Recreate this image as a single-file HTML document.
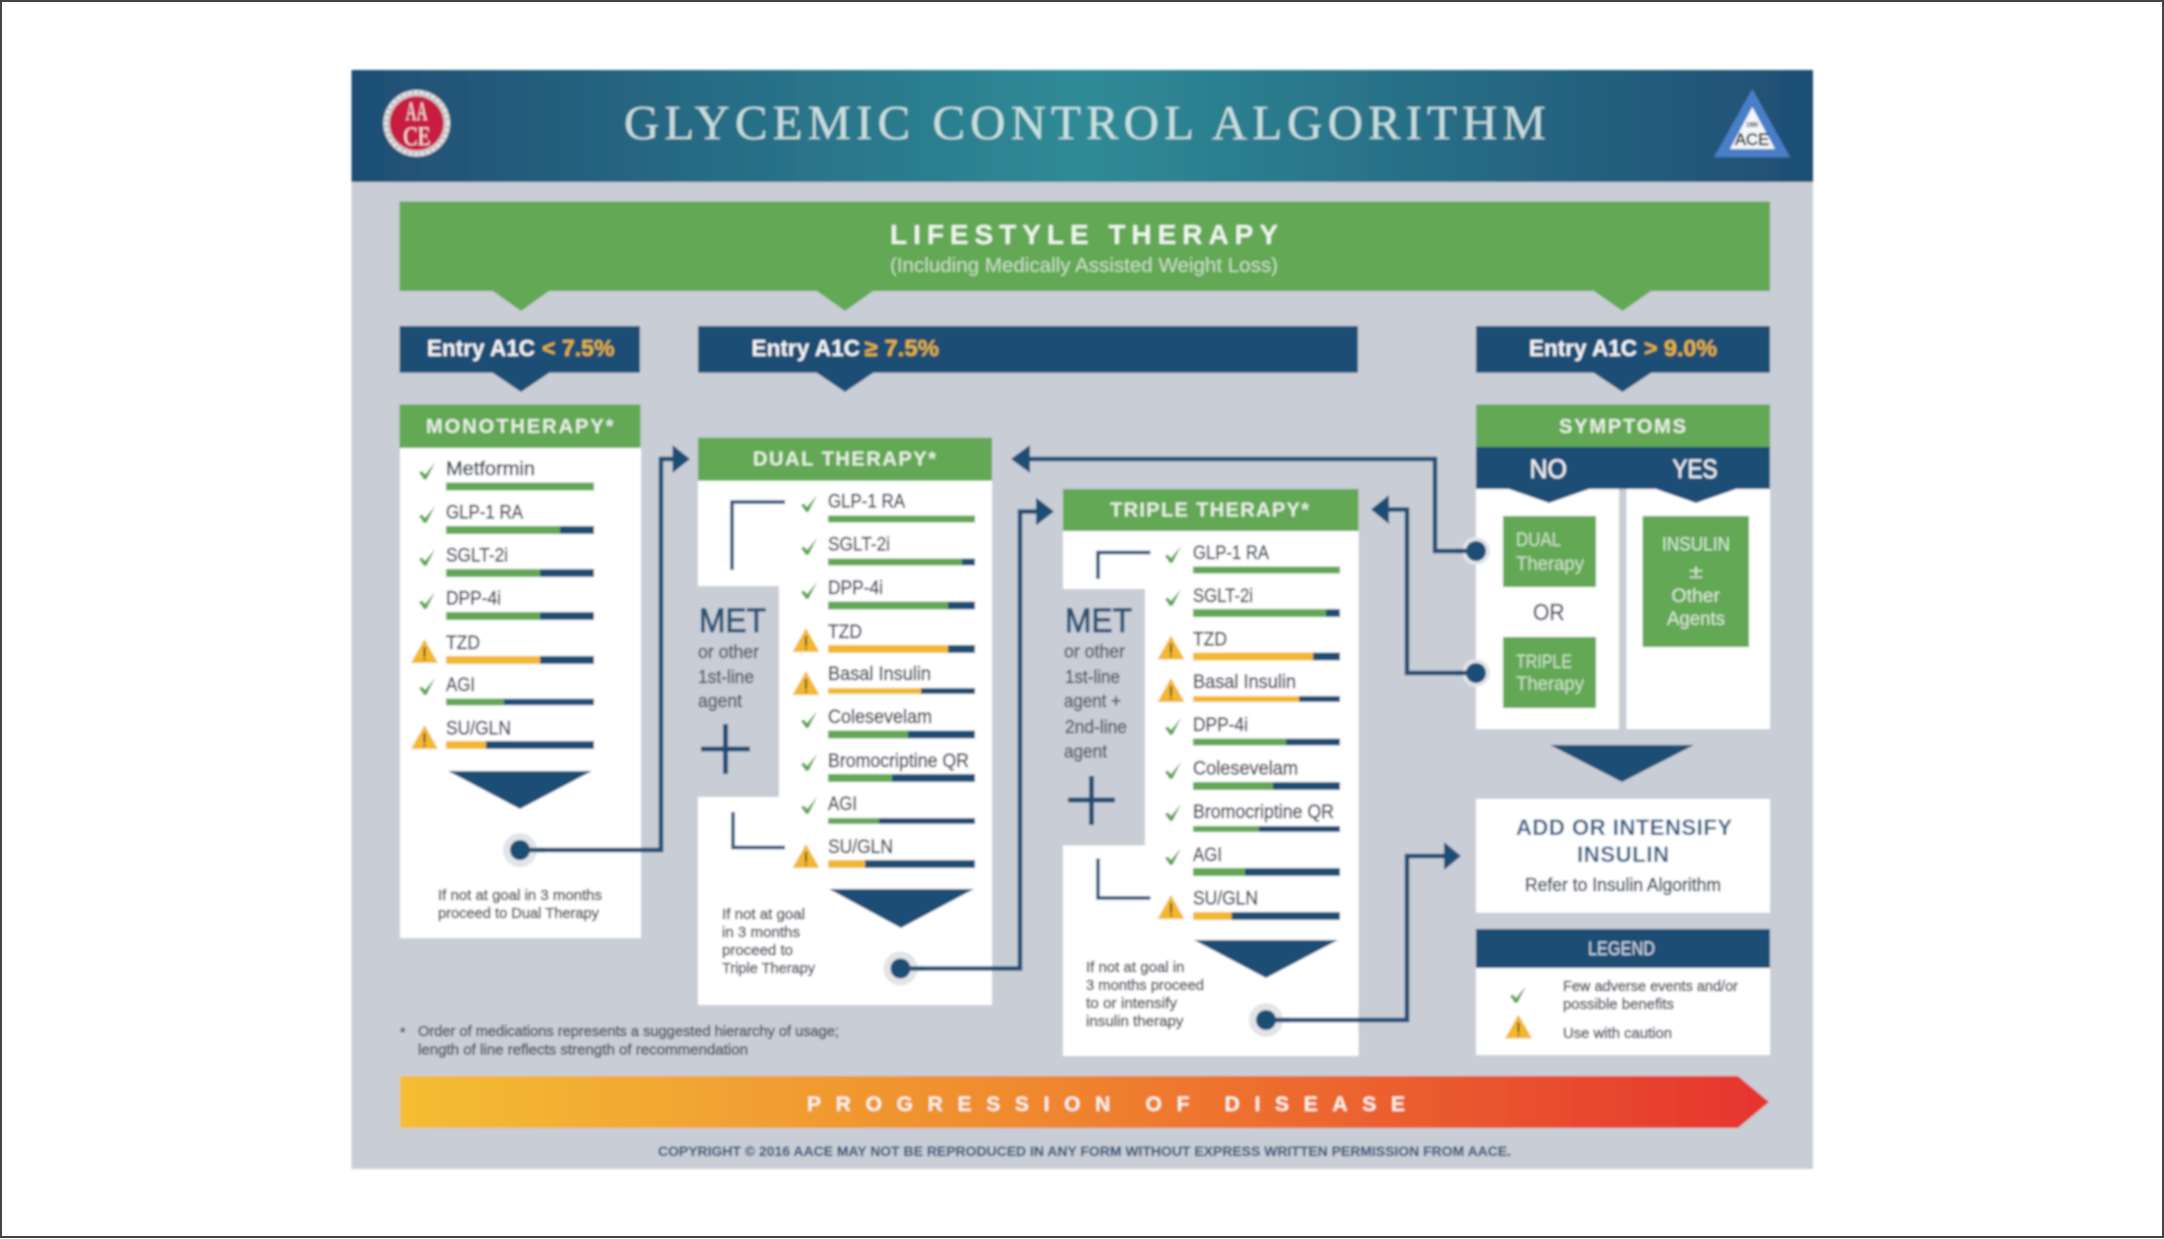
<!DOCTYPE html>
<html lang="en">
<head>
<meta charset="utf-8">
<title>Glycemic Control Algorithm</title>
<style>
html,body{margin:0;padding:0;background:#fff;width:2164px;height:1239px;overflow:hidden}
svg{display:block}
text{font-family:"Liberation Sans",sans-serif}
.lbl{font-size:19.5px;fill:#454e5a;stroke:#454e5a;stroke-width:.55}
.sm{font-size:15px;fill:#565c66;stroke:#565c66;stroke-width:.6}
.head{font-size:20px;font-weight:bold;fill:#e6f0e2}
.entry{font-size:23px;font-weight:bold;fill:#f4f6f8}
.gold{font-size:23px;font-weight:bold;fill:#e9b62e}
.met{font-size:34px;fill:#285477;stroke:#285477;stroke-width:1}
.sub{font-size:18.5px;fill:#555c66;stroke:#555c66;stroke-width:.5}
.box{font-size:19px;fill:#cfe4c9}
.ins{font-size:19px;fill:#dcebd8}
</style>
</head>
<body>
<svg width="2164" height="1239" viewBox="0 0 2164 1239" xmlns="http://www.w3.org/2000/svg">
<defs>
<linearGradient id="hdr" x1="0" x2="1" y1="0" y2="0">
<stop offset="0" stop-color="#1f4e74"/><stop offset=".5" stop-color="#2f8b96"/><stop offset="1" stop-color="#1f4e74"/>
</linearGradient>
<linearGradient id="prog" x1="0" x2="1" y1="0" y2="0">
<stop offset="0" stop-color="#f4bd33"/><stop offset=".45" stop-color="#f08a2e"/><stop offset="1" stop-color="#e5342f"/>
</linearGradient>
<filter id="soft" x="-2%" y="-2%" width="104%" height="104%"><feGaussianBlur stdDeviation="1.05"/></filter>
<g id="chk"><path d="M0 8 L3 6.5 L6 10 L16 -2 L7.5 15 L5 15 Z" fill="#5aa64f"/></g>
<g id="warn"><path d="M0 0 L13.5 24 L-13.5 24 Z" fill="#f3b82f"/><rect x="-1" y="8" width="2" height="10" fill="#5c5030"/><rect x="-1" y="19.5" width="2" height="2" fill="#5c5030"/></g>
</defs>
<rect x="1" y="1" width="2162" height="1236" fill="#fff" stroke="#444" stroke-width="2"/>
<g filter="url(#soft)">
<rect x="351.5" y="70" width="1461.5" height="1099" fill="#c9cdd6"/>
<rect x="351.5" y="70" width="1461.5" height="112" fill="url(#hdr)"/>

<!-- logos -->
<circle cx="416.7" cy="123.3" r="33.5" fill="#cbc8ca"/>
<circle cx="416.7" cy="123.3" r="31" fill="none" stroke="#f4f2f2" stroke-width="3" stroke-dasharray="2 4"/>
<circle cx="416.7" cy="123.3" r="27" fill="#c81f3f"/>
<text x="405.5" y="120" font-size="26" textLength="22" lengthAdjust="spacingAndGlyphs" style="font-family:'Liberation Serif',serif" fill="#f2e6e6">AA</text>
<text x="403.5" y="145" font-size="26" textLength="27" lengthAdjust="spacingAndGlyphs" style="font-family:'Liberation Serif',serif" fill="#f2e6e6">CE</text>
<path d="M1752.3 89 L1790 157.3 L1714 157.3 Z" fill="#4a7fc8"/>
<path d="M1752.3 107 L1775 149 L1730 149 Z" fill="#f4f6fa"/>
<text x="1746" y="127" font-size="7" font-weight="bold" fill="#333" textLength="12" lengthAdjust="spacingAndGlyphs">1990</text>
<text x="1735" y="145" font-size="17" fill="#141a24" stroke="#141a24" stroke-width=".6" textLength="34" lengthAdjust="spacingAndGlyphs">ACE</text>

<text x="624" y="139" font-size="49" fill="#e3f1ef" fill-opacity=".85" style="font-family:'Liberation Serif',serif" textLength="922" lengthAdjust="spacing">GLYCEMIC CONTROL ALGORITHM</text>

<!-- lifestyle -->
<rect x="399.5" y="201.5" width="1370.5" height="89.5" fill="#62a855"/>
<path d="M491.5 290 L550.5 290 L521 311 Z M815.5 290 L874.5 290 L845 311 Z M1592.5 290 L1652.5 290 L1622.5 311 Z" fill="#62a855"/>
<text x="890" y="244" font-size="28" font-weight="bold" fill="#eef5ec" textLength="388" lengthAdjust="spacing">LIFESTYLE THERAPY</text>
<text x="890" y="272" font-size="20" fill="#c8dfc2" textLength="388" lengthAdjust="spacingAndGlyphs">(Including Medically Assisted Weight Loss)</text>

<!-- entries -->
<rect x="399.5" y="326" width="240.5" height="46.7" fill="#1f4e74"/>
<rect x="698" y="326" width="660" height="46.7" fill="#1f4e74"/>
<rect x="1476" y="326" width="294" height="46.7" fill="#1f4e74"/>
<path d="M491.5 372 L550.5 372 L521 392 Z M815.5 372 L874.5 372 L845 392 Z M1592.5 372 L1652.5 372 L1622.5 392 Z" fill="#1f4e74"/>
<text class="entry" x="427" y="356" textLength="108" lengthAdjust="spacingAndGlyphs">Entry A1C</text>
<text class="gold" x="542" y="356" textLength="72.5" lengthAdjust="spacingAndGlyphs">&lt; 7.5%</text>
<text class="entry" x="751.5" y="356" textLength="108.5" lengthAdjust="spacingAndGlyphs">Entry A1C</text>
<text class="gold" x="864.5" y="356" textLength="74.5" lengthAdjust="spacingAndGlyphs">≥ 7.5%</text>
<text class="entry" x="1529" y="356" textLength="108" lengthAdjust="spacingAndGlyphs">Entry A1C</text>
<text class="gold" x="1644" y="356" textLength="73" lengthAdjust="spacingAndGlyphs">&gt; 9.0%</text>

<!-- MONOTHERAPY -->
<rect x="400" y="448" width="241" height="490" fill="#fff"/>
<rect x="399.5" y="404.5" width="241" height="43.5" fill="#62a855"/>
<text class="head" x="426" y="433" textLength="187.5" lengthAdjust="spacing">MONOTHERAPY*</text>

<text class="lbl" x="446" y="475" textLength="89" lengthAdjust="spacingAndGlyphs">Metformin</text>
<rect x="446" y="482.5" width="148" height="8" fill="#62a855"/>
<use href="#chk" x="419" y="464.5"/>
<text class="lbl" x="446" y="518.5" textLength="77" lengthAdjust="spacingAndGlyphs">GLP-1 RA</text>
<rect x="446" y="526" width="148" height="8" fill="#1f4e74"/><rect x="446" y="526" width="114" height="8" fill="#62a855"/>
<use href="#chk" x="419" y="508"/>
<text class="lbl" x="446" y="561.5" textLength="62" lengthAdjust="spacingAndGlyphs">SGLT-2i</text>
<rect x="446" y="569" width="148" height="8" fill="#1f4e74"/><rect x="446" y="569" width="94" height="8" fill="#62a855"/>
<use href="#chk" x="419" y="551"/>
<text class="lbl" x="446" y="604.5" textLength="55" lengthAdjust="spacingAndGlyphs">DPP-4i</text>
<rect x="446" y="612" width="148" height="8" fill="#1f4e74"/><rect x="446" y="612" width="94" height="8" fill="#62a855"/>
<use href="#chk" x="419" y="594"/>
<text class="lbl" x="446" y="649" textLength="34" lengthAdjust="spacingAndGlyphs">TZD</text>
<rect x="446" y="656" width="148" height="8" fill="#1f4e74"/><rect x="446" y="656" width="94" height="8" fill="#f3b82f"/>
<use href="#warn" x="424.5" y="639"/>
<text class="lbl" x="446" y="691" textLength="29" lengthAdjust="spacingAndGlyphs">AGI</text>
<rect x="446" y="698.7" width="148" height="6.5" fill="#1f4e74"/><rect x="446" y="698.7" width="58" height="6.5" fill="#62a855"/>
<use href="#chk" x="419" y="680"/>
<text class="lbl" x="446" y="734.5" textLength="65" lengthAdjust="spacingAndGlyphs">SU/GLN</text>
<rect x="446" y="741" width="148" height="8" fill="#1f4e74"/><rect x="446" y="741" width="40" height="8" fill="#f3b82f"/>
<use href="#warn" x="424.5" y="725"/>
<path d="M448 771 L592 771 L520 809 Z" fill="#1f4e74"/>
<text class="sm" x="438" y="900" textLength="164" lengthAdjust="spacingAndGlyphs">If not at goal in 3 months</text>
<text class="sm" x="438" y="918" textLength="161" lengthAdjust="spacingAndGlyphs">proceed to Dual Therapy</text>

<!-- DUAL -->
<rect x="698" y="480" width="294" height="525" fill="#fff"/>
<rect x="698" y="586" width="81" height="211" fill="#c9cdd6"/>
<rect x="698" y="437.7" width="294" height="43" fill="#62a855"/>
<text class="head" x="753" y="465.5" textLength="183" lengthAdjust="spacing">DUAL THERAPY*</text>
<path d="M785 502 H732 V570 M733 812 V847.5 H785" fill="none" stroke="#1f4e74" stroke-width="3.5"/>

<text class="lbl" x="828" y="507.5" textLength="77" lengthAdjust="spacingAndGlyphs">GLP-1 RA</text>
<rect x="828" y="515.5" width="147" height="7" fill="#62a855"/>
<use href="#chk" x="801" y="497"/>
<text class="lbl" x="828" y="550.5" textLength="62" lengthAdjust="spacingAndGlyphs">SGLT-2i</text>
<rect x="828" y="558.5" width="147" height="7" fill="#1f4e74"/><rect x="828" y="558.5" width="134" height="7" fill="#62a855"/>
<use href="#chk" x="801" y="540"/>
<text class="lbl" x="828" y="594" textLength="55" lengthAdjust="spacingAndGlyphs">DPP-4i</text>
<rect x="828" y="601.5" width="147" height="8" fill="#1f4e74"/><rect x="828" y="601.5" width="120" height="8" fill="#62a855"/>
<use href="#chk" x="801" y="584"/>
<text class="lbl" x="828" y="638" textLength="34" lengthAdjust="spacingAndGlyphs">TZD</text>
<rect x="828" y="645" width="147" height="8" fill="#1f4e74"/><rect x="828" y="645" width="120" height="8" fill="#f3b82f"/>
<use href="#warn" x="806" y="628"/>
<text class="lbl" x="828" y="680" textLength="103" lengthAdjust="spacingAndGlyphs">Basal Insulin</text>
<rect x="828" y="688" width="147" height="6" fill="#1f4e74"/><rect x="828" y="688" width="93" height="6" fill="#f3b82f"/>
<use href="#warn" x="806" y="671"/>
<text class="lbl" x="828" y="723" textLength="104" lengthAdjust="spacingAndGlyphs">Colesevelam</text>
<rect x="828" y="730.5" width="147" height="8" fill="#1f4e74"/><rect x="828" y="730.5" width="80" height="8" fill="#62a855"/>
<use href="#chk" x="801" y="713"/>
<text class="lbl" x="828" y="767" textLength="141" lengthAdjust="spacingAndGlyphs">Bromocriptine QR</text>
<rect x="828" y="774" width="147" height="8" fill="#1f4e74"/><rect x="828" y="774" width="64" height="8" fill="#62a855"/>
<use href="#chk" x="801" y="756"/>
<text class="lbl" x="828" y="810" textLength="29" lengthAdjust="spacingAndGlyphs">AGI</text>
<rect x="828" y="818" width="147" height="6" fill="#1f4e74"/><rect x="828" y="818" width="51" height="6" fill="#62a855"/>
<use href="#chk" x="801" y="799"/>
<text class="lbl" x="828" y="853" textLength="65" lengthAdjust="spacingAndGlyphs">SU/GLN</text>
<rect x="828" y="860" width="147" height="8" fill="#1f4e74"/><rect x="828" y="860" width="37" height="8" fill="#f3b82f"/>
<use href="#warn" x="806" y="844"/>
<path d="M829 889 L974 889 L901 928 Z" fill="#1f4e74"/>

<text class="met" x="699" y="632" textLength="67" lengthAdjust="spacingAndGlyphs">MET</text>
<text class="sub" x="698" y="658" textLength="61" lengthAdjust="spacingAndGlyphs">or other</text>
<text class="sub" x="698" y="683" textLength="56" lengthAdjust="spacingAndGlyphs">1st-line</text>
<text class="sub" x="698" y="707" textLength="44" lengthAdjust="spacingAndGlyphs">agent</text>
<path d="M701 749 H750 M725.5 724 V774" stroke="#1f4e74" stroke-width="5" fill="none"/>
<text class="sm" x="722" y="919" textLength="83" lengthAdjust="spacingAndGlyphs">If not at goal</text>
<text class="sm" x="722" y="937" textLength="78" lengthAdjust="spacingAndGlyphs">in 3 months</text>
<text class="sm" x="722" y="955" textLength="71" lengthAdjust="spacingAndGlyphs">proceed to</text>
<text class="sm" x="722" y="973" textLength="93" lengthAdjust="spacingAndGlyphs">Triple Therapy</text>

<!-- TRIPLE -->
<rect x="1063" y="531" width="295.5" height="525" fill="#fff"/>
<rect x="1063" y="589" width="82" height="256.5" fill="#c9cdd6"/>
<rect x="1063" y="489" width="295.5" height="42" fill="#62a855"/>
<text class="head" x="1110" y="516.5" textLength="199" lengthAdjust="spacing">TRIPLE THERAPY*</text>
<path d="M1150.5 552.5 H1098 V579 M1098 858.5 V898 H1150.5" fill="none" stroke="#1f4e74" stroke-width="3.5"/>

<text class="lbl" x="1193" y="559" textLength="76" lengthAdjust="spacingAndGlyphs">GLP-1 RA</text>
<rect x="1193" y="566.5" width="147" height="7" fill="#62a855"/>
<use href="#chk" x="1165" y="548"/>
<text class="lbl" x="1193" y="602" textLength="60" lengthAdjust="spacingAndGlyphs">SGLT-2i</text>
<rect x="1193" y="609" width="147" height="8" fill="#1f4e74"/><rect x="1193" y="609" width="133" height="8" fill="#62a855"/>
<use href="#chk" x="1165" y="591"/>
<text class="lbl" x="1193" y="645.5" textLength="34" lengthAdjust="spacingAndGlyphs">TZD</text>
<rect x="1193" y="652.5" width="147" height="8" fill="#1f4e74"/><rect x="1193" y="652.5" width="120" height="8" fill="#f3b82f"/>
<use href="#warn" x="1171" y="635.5"/>
<text class="lbl" x="1193" y="688" textLength="103" lengthAdjust="spacingAndGlyphs">Basal Insulin</text>
<rect x="1193" y="696" width="147" height="6" fill="#1f4e74"/><rect x="1193" y="696" width="106" height="6" fill="#f3b82f"/>
<use href="#warn" x="1171" y="678"/>
<text class="lbl" x="1193" y="731" textLength="55" lengthAdjust="spacingAndGlyphs">DPP-4i</text>
<rect x="1193" y="738.5" width="147" height="7" fill="#1f4e74"/><rect x="1193" y="738.5" width="93" height="7" fill="#62a855"/>
<use href="#chk" x="1165" y="720"/>
<text class="lbl" x="1193" y="774.5" textLength="105" lengthAdjust="spacingAndGlyphs">Colesevelam</text>
<rect x="1193" y="782" width="147" height="8" fill="#1f4e74"/><rect x="1193" y="782" width="80" height="8" fill="#62a855"/>
<use href="#chk" x="1165" y="764"/>
<text class="lbl" x="1193" y="818" textLength="141" lengthAdjust="spacingAndGlyphs">Bromocriptine QR</text>
<rect x="1193" y="826" width="147" height="6" fill="#1f4e74"/><rect x="1193" y="826" width="66" height="6" fill="#62a855"/>
<use href="#chk" x="1165" y="806"/>
<text class="lbl" x="1193" y="861" textLength="29" lengthAdjust="spacingAndGlyphs">AGI</text>
<rect x="1193" y="868" width="147" height="8" fill="#1f4e74"/><rect x="1193" y="868" width="52" height="8" fill="#62a855"/>
<use href="#chk" x="1165" y="850"/>
<text class="lbl" x="1193" y="904.5" textLength="65" lengthAdjust="spacingAndGlyphs">SU/GLN</text>
<rect x="1193" y="912" width="147" height="8" fill="#1f4e74"/><rect x="1193" y="912" width="38.5" height="8" fill="#f3b82f"/>
<use href="#warn" x="1171" y="895"/>
<path d="M1194 940 L1338 940 L1266 978 Z" fill="#1f4e74"/>

<text class="met" x="1065" y="632" textLength="67" lengthAdjust="spacingAndGlyphs">MET</text>
<text class="sub" x="1064" y="657.5" textLength="61" lengthAdjust="spacingAndGlyphs">or other</text>
<text class="sub" x="1065" y="683" textLength="55" lengthAdjust="spacingAndGlyphs">1st-line</text>
<text class="sub" x="1064" y="707" textLength="57" lengthAdjust="spacingAndGlyphs">agent +</text>
<text class="sub" x="1065" y="733" textLength="62" lengthAdjust="spacingAndGlyphs">2nd-line</text>
<text class="sub" x="1064" y="757.5" textLength="43" lengthAdjust="spacingAndGlyphs">agent</text>
<path d="M1068 800 H1115 M1091.5 776 V825" stroke="#1f4e74" stroke-width="5" fill="none"/>
<text class="sm" x="1086" y="972" textLength="98.5" lengthAdjust="spacingAndGlyphs">If not at goal in</text>
<text class="sm" x="1086" y="990" textLength="118" lengthAdjust="spacingAndGlyphs">3 months proceed</text>
<text class="sm" x="1086" y="1008" textLength="91" lengthAdjust="spacingAndGlyphs">to or intensify</text>
<text class="sm" x="1086" y="1026" textLength="97.5" lengthAdjust="spacingAndGlyphs">insulin therapy</text>

<!-- SYMPTOMS -->
<rect x="1476" y="488" width="143" height="241" fill="#fff"/>
<rect x="1626.5" y="488" width="143.5" height="241" fill="#fff"/>
<rect x="1476" y="404.5" width="294" height="43" fill="#62a855"/>
<text class="head" x="1559" y="433" textLength="127" lengthAdjust="spacing">SYMPTOMS</text>
<rect x="1476" y="447" width="294" height="42" fill="#1f4e74"/>
<path d="M1506 488 L1592 488 L1549 503 Z M1653 488 L1739 488 L1696 503 Z" fill="#1f4e74"/>
<text x="1529.5" y="478" font-size="27" fill="#eef2f5" stroke="#eef2f5" stroke-width=".3" textLength="37.5" lengthAdjust="spacingAndGlyphs">NO</text>
<text x="1672.5" y="478" font-size="27" fill="#eef2f5" stroke="#eef2f5" stroke-width=".3" textLength="45" lengthAdjust="spacingAndGlyphs">YES</text>

<rect x="1503" y="516" width="93" height="71" fill="#62a855"/>
<rect x="1503" y="637" width="93" height="71" fill="#62a855"/>
<rect x="1642.5" y="516" width="106.5" height="131" fill="#62a855"/>
<text class="box" x="1516" y="546" textLength="45" lengthAdjust="spacingAndGlyphs">DUAL</text>
<text class="box" x="1516" y="570" textLength="68" lengthAdjust="spacingAndGlyphs">Therapy</text>
<text class="box" x="1516" y="668" textLength="56" lengthAdjust="spacingAndGlyphs">TRIPLE</text>
<text class="box" x="1516" y="690" textLength="68" lengthAdjust="spacingAndGlyphs">Therapy</text>
<text x="1533" y="620" font-size="23" fill="#4a5560" stroke="#4a5560" stroke-width=".5" textLength="31.5" lengthAdjust="spacingAndGlyphs">OR</text>
<text class="ins" x="1662" y="550.5" textLength="68" lengthAdjust="spacingAndGlyphs">INSULIN</text>
<text class="ins" x="1689" y="578" textLength="14" lengthAdjust="spacingAndGlyphs">±</text>
<text class="ins" x="1671.5" y="602" textLength="48.5" lengthAdjust="spacingAndGlyphs">Other</text>
<text class="ins" x="1667" y="625" textLength="58" lengthAdjust="spacingAndGlyphs">Agents</text>
<path d="M1550 745 L1694 745 L1622 782 Z" fill="#1f4e74"/>

<!-- ADD -->
<rect x="1476" y="799" width="294" height="113.7" fill="#fff"/>
<text x="1516" y="835" font-size="22" font-weight="bold" fill="#2f5d84" textLength="216" lengthAdjust="spacing">ADD OR INTENSIFY</text>
<text x="1577" y="862" font-size="22" font-weight="bold" fill="#2f5d84" textLength="92" lengthAdjust="spacing">INSULIN</text>
<text x="1525" y="891" font-size="18" fill="#46525f" stroke="#46525f" stroke-width=".6" textLength="196" lengthAdjust="spacingAndGlyphs">Refer to Insulin Algorithm</text>

<!-- LEGEND -->
<rect x="1476" y="968" width="294" height="87" fill="#fff"/>
<rect x="1476" y="929" width="294" height="39" fill="#1f4e74"/>
<text x="1588" y="955" font-size="19" fill="#cfdde6" textLength="67" lengthAdjust="spacingAndGlyphs">LEGEND</text>
<use href="#chk" x="1510" y="988"/>
<use href="#warn" x="1518.5" y="1014.5"/>
<text class="sm" x="1563" y="991" textLength="175" lengthAdjust="spacingAndGlyphs">Few adverse events and/or</text>
<text class="sm" x="1563" y="1009" textLength="111" lengthAdjust="spacingAndGlyphs">possible benefits</text>
<text class="sm" x="1563" y="1038" textLength="109" lengthAdjust="spacingAndGlyphs">Use with caution</text>

<!-- footnote -->
<text class="sm" x="400" y="1037" style="font-size:14px">*</text>
<text class="sm" x="418" y="1036" textLength="421" lengthAdjust="spacingAndGlyphs">Order of medications represents a suggested hierarchy of usage;</text>
<text class="sm" x="418" y="1054.5" textLength="330" lengthAdjust="spacingAndGlyphs">length of line reflects strength of recommendation</text>

<!-- progression -->
<path d="M400 1076 H1738 L1769 1102 L1738 1128 H400 Z" fill="url(#prog)"/>
<text x="807" y="1111" font-size="21" font-weight="bold" fill="#fdf3e8" textLength="598" lengthAdjust="spacing">PROGRESSION OF DISEASE</text>
<text x="658" y="1156" font-size="13.5" font-weight="bold" fill="#3c5f80" stroke="#3c5f80" stroke-width=".3" textLength="853" lengthAdjust="spacingAndGlyphs">COPYRIGHT © 2016 AACE  MAY NOT BE REPRODUCED IN ANY FORM WITHOUT EXPRESS WRITTEN PERMISSION FROM AACE.</text>

<!-- connectors -->
<g fill="none" stroke="#1f4e74" stroke-width="4.5">
<path d="M520 850 H661 V459 H675"/>
<path d="M900.5 968.5 H1020 V511.5 H1040"/>
<path d="M1266 1020 H1407 V856 H1446"/>
<path d="M1476 551 H1435 V459 H1028"/>
<path d="M1476 673 H1407 V509.5 H1387"/>
</g>
<g fill="#1f4e74">
<path d="M672.5 445 L690 459 L672.5 473 Z"/>
<path d="M1036 497.5 L1054 511.5 L1036 525.5 Z"/>
<path d="M1444 842 L1461 856 L1444 870 Z"/>
<path d="M1030 445 L1011 459 L1030 473 Z"/>
<path d="M1389 495 L1371 509.5 L1389 524 Z"/>
</g>
<g fill="#e2e4e8">
<circle cx="520" cy="850" r="17"/>
<circle cx="900.5" cy="968.5" r="17"/>
<circle cx="1266" cy="1020" r="17"/>
<circle cx="1476" cy="551" r="14"/>
<circle cx="1476" cy="673" r="14"/>
</g>
<g fill="none" stroke="#1f4e74" stroke-width="4.5">
<path d="M520 850 H545 M900.5 968.5 H925 M1266 1020 H1290 M1476 551 H1455 M1476 673 H1455"/>
</g>
<g fill="#1f4e74">
<circle cx="520" cy="850" r="10"/>
<circle cx="900.5" cy="968.5" r="10"/>
<circle cx="1266" cy="1020" r="10"/>
<circle cx="1476" cy="551" r="10"/>
<circle cx="1476" cy="673" r="10"/>
</g>
</g>
</svg>
</body>
</html>
